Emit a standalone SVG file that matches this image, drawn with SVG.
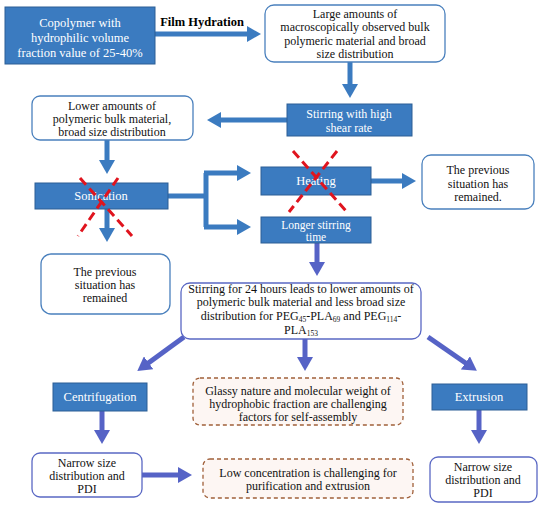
<svg xmlns="http://www.w3.org/2000/svg" width="550" height="505" viewBox="0 0 550 505">
<defs>
<style>
.t{font-family:"Liberation Serif","DejaVu Serif",serif;font-size:12px;fill:#111;text-anchor:middle}
.w{font-family:"Liberation Serif","DejaVu Serif",serif;font-size:12.5px;fill:#fff;text-anchor:middle}
.ws{font-size:12px}
.blue{fill:#3b7bc0;stroke:#2d5f95;stroke-width:1}
.rnd{fill:#fff;stroke:#4a80bd;stroke-width:1.3}
.rnd2{fill:#fff;stroke:#5a68c4;stroke-width:1.3}
.dash{fill:#fdf6f3;stroke:#a0603a;stroke-width:1.3;stroke-dasharray:4,3}
.a1{stroke:#3b7bc0;stroke-width:5;fill:none}
.a2{stroke:#5663c6;stroke-width:5;fill:none}
.x{stroke:#e0141e;stroke-width:3;stroke-dasharray:9,5}
</style>
<marker id="h1" markerUnits="userSpaceOnUse" markerWidth="14" markerHeight="16" refX="2" refY="8" orient="auto"><path d="M0,0 L14,8 L0,16 Z" fill="#3b7bc0"/></marker>
<marker id="h2" markerUnits="userSpaceOnUse" markerWidth="14" markerHeight="16" refX="2" refY="8" orient="auto"><path d="M0,0 L14,8 L0,16 Z" fill="#5663c6"/></marker>
</defs>
<rect width="550" height="505" fill="#fff"/>
<g id="connectors">
<line class="a1" x1="155" y1="34" x2="249" y2="34" marker-end="url(#h1)"/>
<line class="a1" x1="350" y1="62" x2="350" y2="86" marker-end="url(#h1)"/>
<line class="a1" x1="287" y1="120" x2="219" y2="120" marker-end="url(#h1)"/>
<line class="a1" x1="107" y1="140" x2="107" y2="162" marker-end="url(#h1)"/>
<line class="a1" x1="107" y1="209" x2="107" y2="230" marker-end="url(#h1)"/>
<polyline class="a1" points="168,196 206,196"/>
<line class="a1" x1="206" y1="173" x2="206" y2="227"/>
<line class="a1" x1="204" y1="173" x2="239" y2="173" marker-end="url(#h1)"/>
<line class="a1" x1="204" y1="227" x2="239" y2="227" marker-end="url(#h1)"/>
<line class="a1" x1="371" y1="181" x2="404" y2="181" marker-end="url(#h1)"/>
<line class="a2" x1="317" y1="243" x2="317" y2="264" marker-end="url(#h2)"/>
<line class="a2" x1="184" y1="337" x2="147" y2="364" marker-end="url(#h2)"/>
<line class="a2" x1="305" y1="339" x2="305" y2="359" marker-end="url(#h2)"/>
<line class="a2" x1="428" y1="337" x2="467" y2="364" marker-end="url(#h2)"/>
<line class="a2" x1="102" y1="411" x2="102" y2="432" marker-end="url(#h2)"/>
<line class="a2" x1="479" y1="410" x2="479" y2="432" marker-end="url(#h2)"/>
<line class="a2" x1="142" y1="475" x2="180" y2="475" marker-end="url(#h2)"/>
</g>
<text x="202" y="26" style="font-family:'Liberation Serif',serif;font-size:12.5px;font-weight:bold;text-anchor:middle">Film Hydration</text>
<g id="copolymer">
<rect class="blue" x="5" y="7" width="150" height="57"/>
<text class="w" x="80" y="27">Copolymer with</text>
<text class="w" x="80" y="42">hydrophilic volume</text>
<text class="w" x="80" y="57">fraction value of 25-40%</text>
</g>
<g id="large">
<rect class="rnd" x="265" y="5" width="180" height="57" rx="9"/>
<text class="t" x="355" y="18">Large amounts of</text>
<text class="t" x="355" y="31">macroscopically observed bulk</text>
<text class="t" x="355" y="45">polymeric material and broad</text>
<text class="t" x="355" y="58">size distribution</text>
</g>
<g id="stirring">
<rect class="blue" x="287" y="104" width="125" height="32"/>
<text class="w ws" x="349" y="118">Stirring with high</text>
<text class="w ws" x="349" y="132">shear rate</text>
</g>
<g id="lower">
<rect class="rnd" x="32" y="96" width="161" height="44" rx="8"/>
<text class="t" x="112" y="110">Lower amounts of</text>
<text class="t" x="112" y="123">polymeric bulk material,</text>
<text class="t" x="112" y="136">broad size distribution</text>
</g>
<g id="sonication">
<rect class="blue" x="35" y="183" width="133" height="26"/>
<text class="w" x="101" y="200">Sonication</text>
<line class="x" x1="80" y1="178" x2="132" y2="236"/>
<line class="x" x1="118" y1="178" x2="78" y2="236"/>
</g>
<g id="heating">
<rect class="blue" x="261" y="167" width="110" height="28"/>
<text class="w" x="316" y="185">Heating</text>
<line class="x" x1="293" y1="151" x2="347" y2="212"/>
<line class="x" x1="337" y1="151" x2="289" y2="212"/>
</g>
<g id="prev-right">
<rect class="rnd" x="422" y="155" width="112" height="54" rx="9"/>
<text class="t" x="478" y="174">The previous</text>
<text class="t" x="478" y="188">situation  has</text>
<text class="t" x="478" y="201">remained.</text>
</g>
<g id="longer">
<rect class="blue" x="261" y="217" width="110" height="26"/>
<text class="w" x="316" y="229" style="font-size:11.5px">Longer stirring</text>
<text class="w" x="316" y="241" style="font-size:11.5px">time</text>
</g>
<g id="prev-left">
<rect class="rnd" x="41" y="254" width="129" height="60" rx="10"/>
<text class="t" x="105" y="276">The previous</text>
<text class="t" x="105" y="289">situation  has</text>
<text class="t" x="105" y="302">remained</text>
</g>
<g id="stir24">
<rect class="rnd2" x="181" y="283" width="240" height="56" rx="9"/>
<text class="t" x="301" y="293">Stirring for 24 hours leads to lower amounts of</text>
<text class="t" x="301" y="306">polymeric bulk material and less broad size</text>
<text class="t" x="301" y="320">distribution for PEG<tspan font-size="7.5" dy="1.5">45</tspan><tspan dy="-1.5">-PLA</tspan><tspan font-size="7.5" dy="1.5">69</tspan><tspan dy="-1.5"> and PEG</tspan><tspan font-size="7.5" dy="1.5">114</tspan><tspan dy="-1.5">-</tspan></text>
<text class="t" x="301" y="334">PLA<tspan font-size="7.5" dy="1.5">153</tspan></text>
</g>
<g id="centrifugation">
<rect class="blue" x="53" y="383" width="94" height="28"/>
<text class="w" x="100" y="401">Centrifugation</text>
</g>
<g id="glassy">
<rect class="dash" x="193" y="378" width="210" height="47" rx="7"/>
<text class="t" x="298" y="395">Glassy nature and molecular weight of</text>
<text class="t" x="298" y="408">hydrophobic fraction are challenging</text>
<text class="t" x="298" y="421">factors for self-assembly</text>
</g>
<g id="extrusion">
<rect class="blue" x="432" y="384" width="95" height="26"/>
<text class="w" x="479" y="401">Extrusion</text>
</g>
<g id="narrow-left">
<rect class="rnd2" x="32" y="453" width="110" height="44" rx="8"/>
<text class="t" x="87" y="467">Narrow size</text>
<text class="t" x="87" y="480">distribution and</text>
<text class="t" x="87" y="493">PDI</text>
</g>
<g id="lowconc">
<rect class="dash" x="203" y="459" width="210" height="39" rx="7"/>
<text class="t" x="308" y="477">Low concentration is challenging for</text>
<text class="t" x="308" y="490">purification and extrusion</text>
</g>
<g id="narrow-right">
<rect class="rnd2" x="430" y="457" width="107" height="45" rx="8"/>
<text class="t" x="483" y="471">Narrow size</text>
<text class="t" x="483" y="484">distribution and</text>
<text class="t" x="483" y="497">PDI</text>
</g>
</svg>
